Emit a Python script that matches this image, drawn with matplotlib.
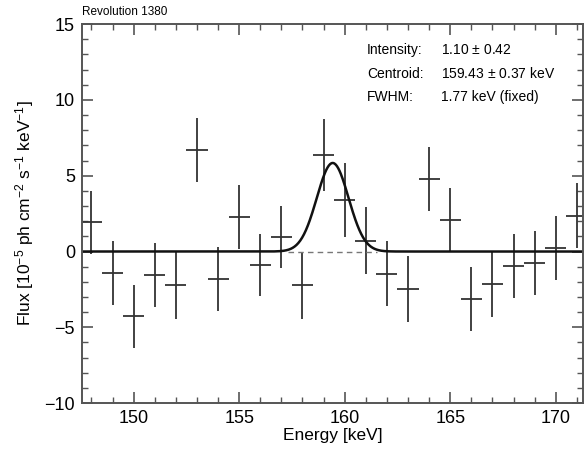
import matplotlib
matplotlib.use("Agg")
import matplotlib.pyplot as plt
from matplotlib.ticker import MultipleLocator
import numpy as np

plt.rcParams['font.family'] = ['Liberation Sans', 'DejaVu Sans']
plt.rcParams['mathtext.fontset'] = 'custom'
plt.rcParams['mathtext.rm'] = 'Liberation Sans'
plt.rcParams['mathtext.it'] = 'Liberation Sans:italic'

# spectrum bins (keV) and flux (1e-5 ph cm-2 s-1 keV-1)
energy = [148, 149, 150, 151, 152, 153, 154, 155, 156, 157, 158, 159,
          160, 161, 162, 163, 164, 165, 166, 167, 168, 169, 170, 171]
flux = [1.92, -1.41, -4.28, -1.56, -2.22, 6.69, -1.82, 2.28, -0.91, 0.94, -2.22, 6.37,
        3.39, 0.72, -1.45, -2.47, 4.78, 2.07, -3.13, -2.17, -0.95, -0.74, 0.22, 2.35]
flux_err = [2.1, 2.1, 2.1, 2.1, 2.2, 2.1, 2.1, 2.1, 2.05, 2.05, 2.2, 2.4,
            2.45, 2.2, 2.15, 2.15, 2.1, 2.1, 2.1, 2.15, 2.1, 2.1, 2.1, 2.15]
bin_half = 0.5

# fitted line parameters
intensity = 1.10      # 1e-4 ph cm-2 s-1
centroid = 159.43
fwhm = 1.77

sigma = fwhm / 2.3548
e = np.linspace(147.5, 171.5, 800)
model = intensity * 10 / (sigma * np.sqrt(2 * np.pi)) * np.exp(-0.5 * ((e - centroid) / sigma) ** 2)

fig = plt.figure(figsize=(5.85, 4.54), dpi=100)
ax = fig.add_axes([0.140, 0.112, 0.857, 0.835])

ax.errorbar(energy, flux, yerr=flux_err, xerr=bin_half, fmt='none',
            ecolor='#333333', elinewidth=1.3, capsize=0)
ax.plot(e, model, color='#111111', lw=1.8)
ax.plot([centroid - 2.1, centroid + 2.1], [0, 0], color='#777777', lw=1.0, ls=(0, (4, 3)))

ax.set_xlim(147.55, 171.3)
ax.set_ylim(-10, 15)
ax.xaxis.set_major_locator(MultipleLocator(5))
ax.xaxis.set_minor_locator(MultipleLocator(1))
ax.yaxis.set_major_locator(MultipleLocator(5))
ax.yaxis.set_minor_locator(MultipleLocator(1))
ax.tick_params(which='both', direction='in', top=True, right=True, color='#555555')
ax.tick_params(which='major', length=8, width=1.2, labelsize=13, pad=5)
ax.tick_params(which='minor', length=4, width=1.0)
for s in ax.spines.values():
    s.set_color('#555555')
    s.set_linewidth(1.4)

ax.set_xlabel('Energy [keV]', fontsize=12.5, labelpad=1)
ax.set_ylabel(r'Flux [10$^{-5}$ ph cm$^{-2}$ s$^{-1}$ keV$^{-1}$]', fontsize=12.5, labelpad=6)

fig.text(0.140, 1 - 12 / 454, 'Revolution 1380', fontsize=8.5, ha='left', va='center')

labels = ['Intensity:', 'Centroid:', 'FWHM:']
values = [r'1.10 $\pm$ 0.42', r'159.43 $\pm$ 0.37 keV', '1.77 keV (fixed)']
for i, (lab, val) in enumerate(zip(labels, values)):
    y = 1 - (50 + 23.5 * i) / 454
    fig.text(367 / 585, y, lab, fontsize=10, ha='left', va='center')
    fig.text(441 / 585, y, val, fontsize=10, ha='left', va='center')

fig.savefig('out.png', dpi=100)
